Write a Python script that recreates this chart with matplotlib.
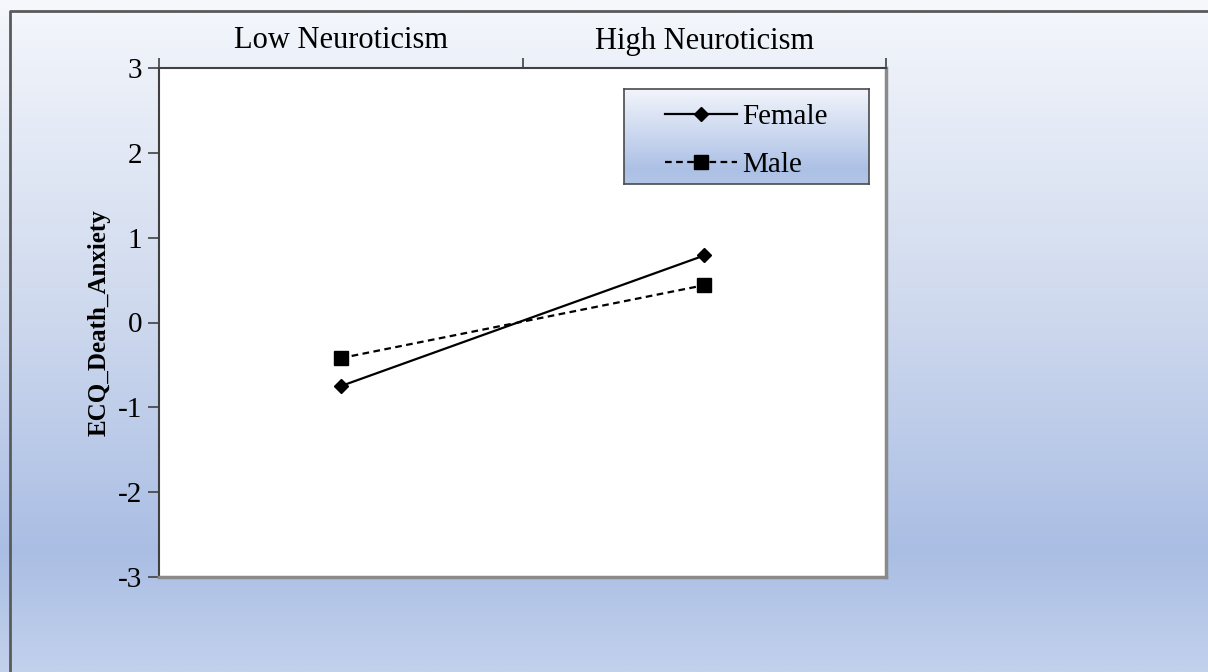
import numpy as np
import matplotlib.pyplot as plt
from matplotlib.lines import Line2D

# simple slopes: ECQ death anxiety by neuroticism level and gender
categories = ['Low Neuroticism', 'High Neuroticism']
female = [-0.75, 0.79]
male = [-0.42, 0.44]
y_ticks = [-3, -2, -1, 0, 1, 2, 3]
y_labels = ['-3', '-2', '-1', '0', '1', '2', '3']

plt.rcParams['font.family'] = ['Liberation Serif', 'DejaVu Serif']


def gradient(stops, n=400):
    pos = np.array([s[0] for s in stops])
    cols = np.array([s[1] for s in stops]) / 255.0
    t = np.linspace(0, 1, n)
    img = np.stack([np.interp(t, pos, cols[:, k]) for k in range(3)], axis=1)
    return img[:, None, :]


fig = plt.figure(figsize=(12.08, 6.72), dpi=100)

# chart area background, light at the top, blue towards the bottom
bg = fig.add_axes([0, 0, 1, 1], zorder=-2)
bg.imshow(gradient([(0.0, (246, 248, 252)), (0.06, (239, 243, 250)),
                    (0.45, (208, 218, 238)), (0.82, (170, 190, 228)),
                    (1.0, (194, 209, 236))]),
          aspect='auto', extent=[0, 1, 0, 1])
bg.axis('off')
bg.plot([9.5 / 1208, 9.5 / 1208, 1.01], [-0.01, 1 - 10.5 / 672, 1 - 10.5 / 672],
        color='#5a5a5a', lw=2, transform=bg.transAxes, clip_on=False)

ax = fig.add_axes([159 / 1208, 1 - 577 / 672, 727 / 1208, 509 / 672])
ax.set_facecolor('white')
x = np.arange(len(categories))
ax.plot(x, female, color='black', lw=1.6, marker='D', ms=7, label='Female')
ax.plot(x, male, color='black', lw=1.6, ls=(0, (3, 2)), marker='s', ms=10,
        label='Male')

ax.set_xlim(-0.5, 1.5)
ax.set_ylim(-3, 3)
ax.set_yticks(y_ticks)
ax.set_yticklabels(y_labels)
ax.tick_params(axis='y', direction='out', length=8, width=1.2, color='#404040',
               labelsize=21, pad=4)

# category axis sits on top: boundary ticks plus centred labels
ax.xaxis.tick_top()
ax.set_xticks([-0.5, 0.5, 1.5])
ax.set_xticklabels([])
ax.set_xticks(x, minor=True)
ax.set_xticklabels(categories, minor=True)
ax.tick_params(axis='x', which='major', direction='out', length=7, width=1.2,
               color='#404040')
ax.tick_params(axis='x', which='minor', length=0, labelsize=22, pad=9)

ax.spines['left'].set_color('#404040')
ax.spines['top'].set_color('#404040')
ax.spines['left'].set_linewidth(1.5)
ax.spines['top'].set_linewidth(1.5)
ax.spines['right'].set_color('#8a8a8a')
ax.spines['bottom'].set_color('#8a8a8a')
ax.spines['right'].set_linewidth(2.5)
ax.spines['bottom'].set_linewidth(2.5)

ax.set_ylabel('ECQ_Death_Anxiety', fontsize=18, fontweight='bold', labelpad=5)

# legend box with its own gradient fill
lx0, ly0, lx1, ly1 = 624, 89, 869, 184
lax = fig.add_axes([lx0 / 1208, 1 - ly1 / 672, (lx1 - lx0) / 1208, (ly1 - ly0) / 672],
                   zorder=1)
lax.imshow(gradient([(0.0, (242, 245, 251)), (0.85, (172, 192, 229)),
                     (1.0, (180, 198, 231))]),
           aspect='auto', extent=[0, 1, 0, 1])
lax.set_xticks([])
lax.set_yticks([])
for s in lax.spines.values():
    s.set_color('#4a4a4a')
    s.set_linewidth(1.2)

handles = [Line2D([], [], color='black', lw=1.6, marker='D', ms=7),
           Line2D([], [], color='black', lw=1.6, ls=(0, (3, 2)), marker='s', ms=10)]
fig.legend(handles, ['Female', 'Male'], loc='center',
           bbox_to_anchor=((lx0 + lx1) / 2 / 1208, 1 - (ly0 + ly1 + 9) / 2 / 672),
           frameon=False, fontsize=21, handlelength=2.45, handletextpad=0.2,
           labelspacing=0.75, numpoints=1)

fig.savefig('out.png', dpi=100)
